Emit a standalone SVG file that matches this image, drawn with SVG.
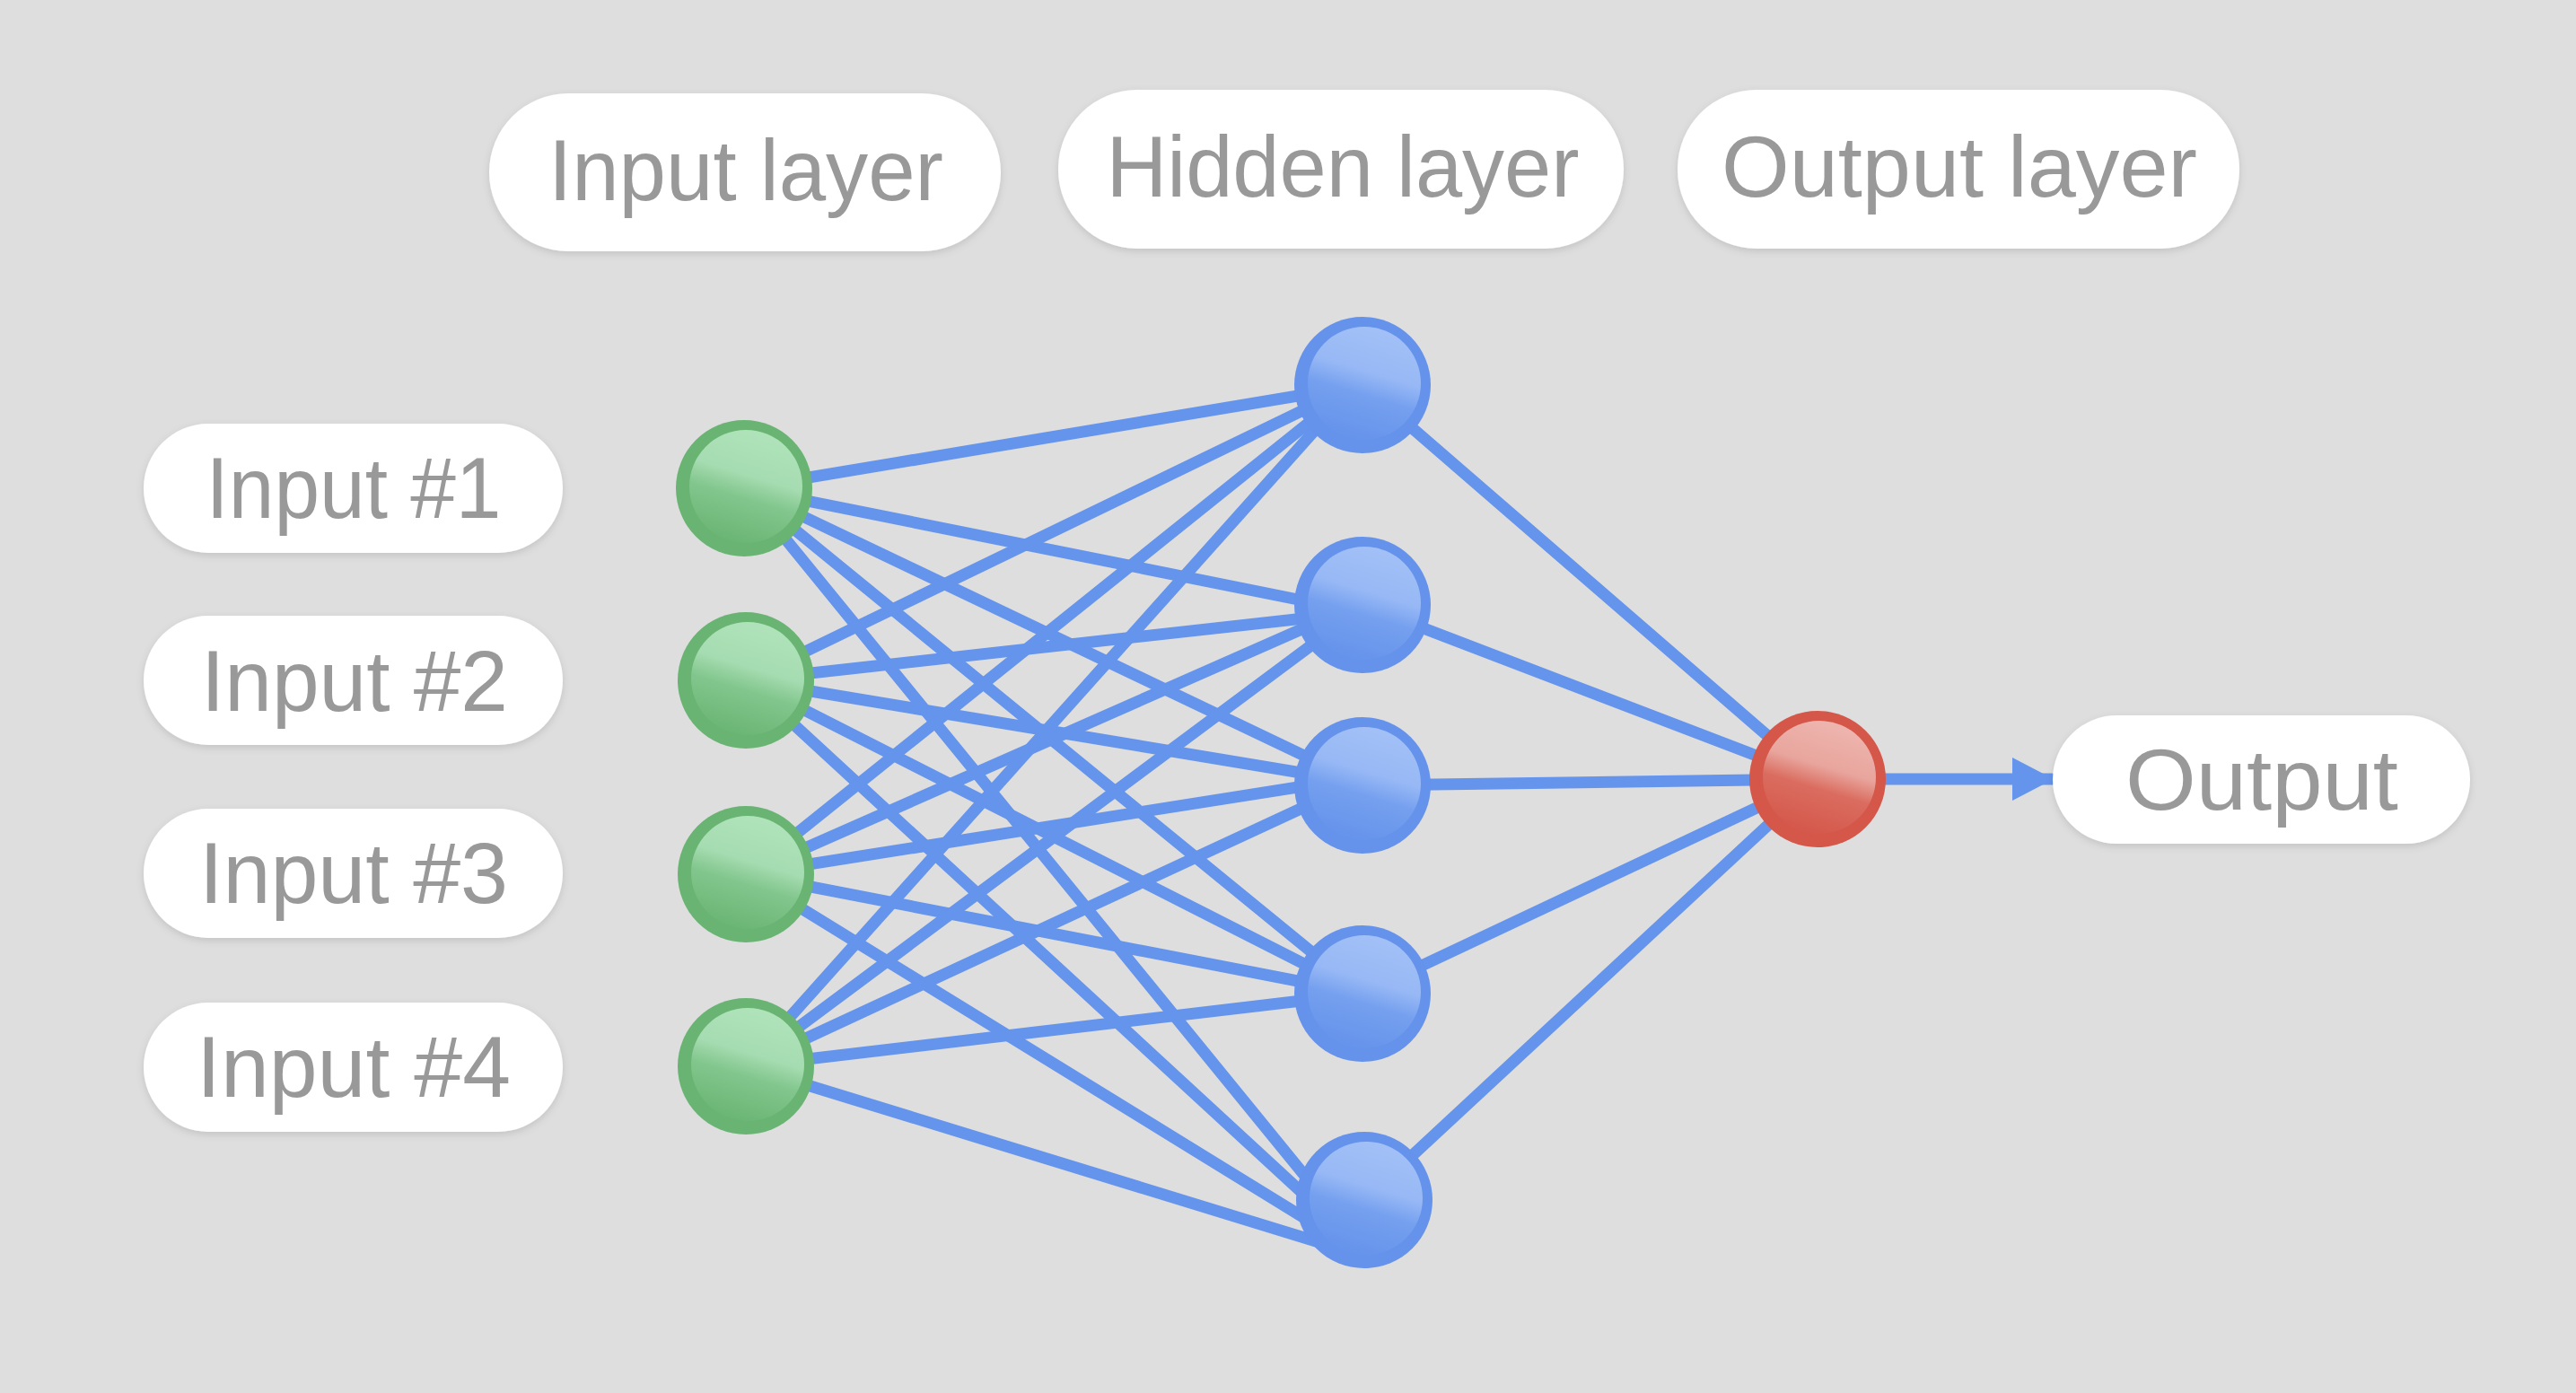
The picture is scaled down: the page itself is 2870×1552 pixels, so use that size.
<svg xmlns="http://www.w3.org/2000/svg" width="2870" height="1552" viewBox="0 0 2870 1552">
<defs>
<style>
.pill{fill:#ffffff;filter:url(#sh)}
.lbl{font-family:"Liberation Sans",Arial,sans-serif;font-size:97px;fill:#999999;text-anchor:middle}
.edge{stroke:#6594ec;stroke-width:13;stroke-linecap:round;fill:none}
.ring-g{fill:#69b473}
.ring-b{fill:#6592eb}
.ring-r{fill:#d4574a}
</style>
<filter id="sh" x="-10%" y="-20%" width="120%" height="150%">
<feDropShadow dx="0" dy="3" stdDeviation="4" flood-color="#000" flood-opacity="0.12"/>
</filter>
<linearGradient id="gg" x1="0.65" y1="0" x2="0.35" y2="1">
<stop offset="0" stop-color="#b0e3ba"/>
<stop offset="0.4" stop-color="#a6dcb1"/>
<stop offset="0.6" stop-color="#82c68d"/>
<stop offset="1" stop-color="#69b473"/>
</linearGradient>
<linearGradient id="gb" x1="0.65" y1="0" x2="0.35" y2="1">
<stop offset="0" stop-color="#a3c1f7"/>
<stop offset="0.4" stop-color="#97b8f5"/>
<stop offset="0.6" stop-color="#75a0ef"/>
<stop offset="1" stop-color="#6592eb"/>
</linearGradient>
<linearGradient id="gr" x1="0.65" y1="0" x2="0.35" y2="1">
<stop offset="0" stop-color="#eeb6b0"/>
<stop offset="0.4" stop-color="#e8a59d"/>
<stop offset="0.6" stop-color="#da6c5f"/>
<stop offset="1" stop-color="#d4574a"/>
</linearGradient>
<marker id="arr" markerUnits="userSpaceOnUse" markerWidth="52" markerHeight="52" refX="44" refY="24" orient="auto">
<polygon points="0,0 46,24 0,48" fill="#6594ec"/>
</marker>
</defs>
<rect width="2870" height="1552" fill="#dedede"/>

<g id="connectors">
<line class="edge" x1="829" y1="544" x2="1518" y2="429"/>
<line class="edge" x1="829" y1="544" x2="1516" y2="682"/>
<line class="edge" x1="829" y1="544" x2="1516" y2="872"/>
<line class="edge" x1="829" y1="544" x2="1518" y2="1107"/>
<line class="edge" x1="829" y1="544" x2="1515" y2="1385"/>
<line class="edge" x1="831" y1="758" x2="1518" y2="425"/>
<line class="edge" x1="831" y1="758" x2="1516" y2="682"/>
<line class="edge" x1="831" y1="758" x2="1516" y2="872"/>
<line class="edge" x1="831" y1="758" x2="1518" y2="1107"/>
<line class="edge" x1="831" y1="758" x2="1515" y2="1388"/>
<line class="edge" x1="831" y1="974" x2="1518" y2="423"/>
<line class="edge" x1="831" y1="974" x2="1516" y2="672"/>
<line class="edge" x1="831" y1="974" x2="1516" y2="866"/>
<line class="edge" x1="831" y1="974" x2="1518" y2="1107"/>
<line class="edge" x1="831" y1="974" x2="1515" y2="1395"/>
<line class="edge" x1="831" y1="1188" x2="1518" y2="420"/>
<line class="edge" x1="831" y1="1188" x2="1516" y2="678"/>
<line class="edge" x1="831" y1="1188" x2="1516" y2="870"/>
<line class="edge" x1="831" y1="1188" x2="1518" y2="1107"/>
<line class="edge" x1="831" y1="1188" x2="1515" y2="1398"/>
<line class="edge" x1="1518" y1="429" x2="2025" y2="868"/>
<line class="edge" x1="1518" y1="674" x2="2025" y2="868"/>
<line class="edge" x1="1518" y1="875" x2="2025" y2="868"/>
<line class="edge" x1="1518" y1="1107" x2="2025" y2="868"/>
<line class="edge" x1="1520" y1="1337" x2="2025" y2="868"/>
<line class="edge" x1="2025" y1="868" x2="2286" y2="868" stroke-linecap="butt" marker-end="url(#arr)"/>
</g>

<g id="label-input-layer"><rect class="pill" x="545" y="104" width="570" height="176" rx="88"/><text class="lbl" x="831" y="223" textLength="440" lengthAdjust="spacingAndGlyphs">Input layer</text></g>
<g id="label-hidden-layer"><rect class="pill" x="1179" y="100" width="630" height="177" rx="88"/><text class="lbl" x="1496" y="219" textLength="527" lengthAdjust="spacingAndGlyphs">Hidden layer</text></g>
<g id="label-output-layer"><rect class="pill" x="1869" y="100" width="626" height="177" rx="88"/><text class="lbl" x="2183" y="219" textLength="530" lengthAdjust="spacingAndGlyphs">Output layer</text></g>

<g id="label-input-1"><rect class="pill" x="160" y="472" width="467" height="144" rx="72"/><text class="lbl" x="394" y="577" textLength="329" lengthAdjust="spacingAndGlyphs">Input #1</text></g>
<g id="label-input-2"><rect class="pill" x="160" y="686" width="467" height="144" rx="72"/><text class="lbl" x="395" y="792" textLength="342" lengthAdjust="spacingAndGlyphs">Input #2</text></g>
<g id="label-input-3"><rect class="pill" x="160" y="901" width="467" height="144" rx="72"/><text class="lbl" x="394" y="1006" textLength="344" lengthAdjust="spacingAndGlyphs">Input #3</text></g>
<g id="label-input-4"><rect class="pill" x="160" y="1117" width="467" height="144" rx="72"/><text class="lbl" x="394" y="1222" textLength="350" lengthAdjust="spacingAndGlyphs">Input #4</text></g>
<g id="label-output"><rect class="pill" x="2287" y="797" width="465" height="143" rx="71.5"/><text class="lbl" x="2520" y="902" textLength="304" lengthAdjust="spacingAndGlyphs">Output</text></g>

<g id="input-1"><circle class="ring-g" cx="829" cy="544" r="76"/><circle cx="831" cy="542" r="63" fill="url(#gg)"/></g>
<g id="input-2"><circle class="ring-g" cx="831" cy="758" r="76"/><circle cx="833" cy="756" r="63" fill="url(#gg)"/></g>
<g id="input-3"><circle class="ring-g" cx="831" cy="974" r="76"/><circle cx="833" cy="972" r="63" fill="url(#gg)"/></g>
<g id="input-4"><circle class="ring-g" cx="831" cy="1188" r="76"/><circle cx="833" cy="1186" r="63" fill="url(#gg)"/></g>

<g id="hidden-1"><circle class="ring-b" cx="1518" cy="429" r="76"/><circle cx="1520" cy="427" r="63" fill="url(#gb)"/></g>
<g id="hidden-2"><circle class="ring-b" cx="1518" cy="674" r="76"/><circle cx="1520" cy="672" r="63" fill="url(#gb)"/></g>
<g id="hidden-3"><circle class="ring-b" cx="1518" cy="875" r="76"/><circle cx="1520" cy="873" r="63" fill="url(#gb)"/></g>
<g id="hidden-4"><circle class="ring-b" cx="1518" cy="1107" r="76"/><circle cx="1520" cy="1105" r="63" fill="url(#gb)"/></g>
<g id="hidden-5"><circle class="ring-b" cx="1520" cy="1337" r="76"/><circle cx="1522" cy="1335" r="63" fill="url(#gb)"/></g>

<g id="output-node"><circle class="ring-r" cx="2025" cy="868" r="76"/><circle cx="2027" cy="866" r="63" fill="url(#gr)"/></g>
</svg>
